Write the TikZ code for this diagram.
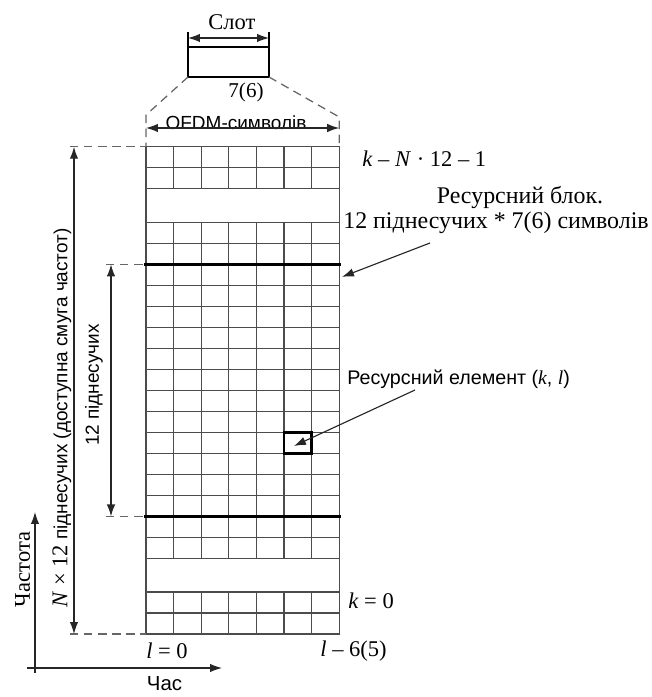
\documentclass[tikz,border=0pt]{standalone}
\usepackage{fontspec}
\setmainfont{Liberation Serif}
\setsansfont{Liberation Sans}
\usetikzlibrary{arrows.meta}

\begin{document}
\begin{tikzpicture}[x=0.025cm, y=0.025cm,
  serlbl/.style={font=\fontsize{16}{19}\selectfont\rmfamily, inner sep=0pt},
  sanslbl/.style={font=\fontsize{13.5}{16}\selectfont\sffamily, inner sep=0pt},
  dimarrow/.style={{Latex[length=8.5pt,width=6pt]}-{Latex[length=8.5pt,width=6pt]}, draw=black!85, line width=0.8pt},
  ptrarrow/.style={-{Latex[length=8.5pt,width=6pt]}, draw=black!85, line width=0.8pt},
  guide/.style={draw=black!60, dash pattern=on 6pt off 4pt, line width=0.9pt}]
% LTE resource grid, one slot
\def\cellw{0.69cm}
\def\cellh{0.525cm}
\providecommand{\rgGridLineColor}{black!70}
\providecommand{\rgGridLineWidth}{0.9pt}
\providecommand{\rgThickLineWidth}{2.2pt}
\useasboundingbox (-146,-63) rectangle (505,634);
\begin{scope}[x=\cellw, y=\cellh, line cap=rect]
  % Vertical lines
  \begin{scope}[draw=\rgGridLineColor, line width=\rgGridLineWidth]
    \draw (0,0) -- (0,23.2);
    \draw (7,0) -- (7,23.2);
    % bottom band
    \draw (1,0) -- (1,2);
    \draw (2,0) -- (2,2);
    \draw (3,0) -- (3,2);
    \draw (4,0) -- (4,2);
    \draw (5,0) -- (5,2);
    \draw (6,0) -- (6,2);
    % middle band
    \draw (1,3.6) -- (1,19.6);
    \draw (2,3.6) -- (2,19.6);
    \draw (3,3.6) -- (3,19.6);
    \draw (4,3.6) -- (4,19.6);
    \draw (5,3.6) -- (5,19.6);
    \draw (6,3.6) -- (6,19.6);
    % top band
    \draw (1,21.2) -- (1,23.2);
    \draw (2,21.2) -- (2,23.2);
    \draw (3,21.2) -- (3,23.2);
    \draw (4,21.2) -- (4,23.2);
    \draw (5,21.2) -- (5,23.2);
    \draw (6,21.2) -- (6,23.2);
  \end{scope}
  % Horizontal lines
  \begin{scope}[draw=\rgGridLineColor, line width=\rgGridLineWidth]
    \draw (0,0) -- (7,0);
    \draw (0,1) -- (7,1);
    \draw (0,2) -- (7,2);
    \draw (0,3.6) -- (7,3.6);
    \draw (0,4.6) -- (7,4.6);
    \draw (0,6.6) -- (7,6.6);
    \draw (0,7.6) -- (7,7.6);
    \draw (0,8.6) -- (7,8.6);
    \draw (0,9.6) -- (7,9.6);
    \draw (0,10.6) -- (7,10.6);
    \draw (0,11.6) -- (7,11.6);
    \draw (0,12.6) -- (7,12.6);
    \draw (0,13.6) -- (7,13.6);
    \draw (0,14.6) -- (7,14.6);
    \draw (0,15.6) -- (7,15.6);
    \draw (0,16.6) -- (7,16.6);
    \draw (0,18.6) -- (7,18.6);
    \draw (0,19.6) -- (7,19.6);
    \draw (0,21.2) -- (7,21.2);
    \draw (0,22.2) -- (7,22.2);
    \draw (0,23.2) -- (7,23.2);
  \end{scope}
  % Resource block borders
  \draw[line width=\rgThickLineWidth] (0,5.6) -- (7,5.6);
  \draw[line width=\rgThickLineWidth] (0,17.6) -- (7,17.6);
  % Resource element
  \draw[line width=2pt] (5,8.6) rectangle (6,9.6);
  \coordinate (retip) at (5.36,8.95);
  \coordinate (rbtip) at (7.1,17.0);
\end{scope}
% Slot box
\draw[line width=0.9pt] (42,557) rectangle (123,587);
\draw[line width=0.9pt] (42,587) -- (42,602);
\draw[line width=0.9pt] (123,587) -- (123,602);
\coordinate (slotl) at (42,596);
\coordinate (slotr) at (123,596);
\draw[dimarrow] (slotl) -- (slotr);
\node[serlbl] (slot) at (86,612) {Слот};
\node[serlbl, font=\fontsize{15}{18}\selectfont\rmfamily] (slotsym) at (100,542) {7(6)};
% Zoom guides
\draw[guide] (42,557) -- (0,519) -- (0,487);
\draw[guide] (123,557) -- (193.2,517) -- (193.2,487);
\coordinate (ofdml) at (0,506);
\coordinate (ofdmr) at (193.2,506);
\node[sanslbl, anchor=base] (ofdm) at (90,504) {OFDM-символів};
\draw[dimarrow] (ofdml) -- (ofdmr);
% Right labels
\node[serlbl, anchor=west] (ktop) at (216,475) {\textit{k} – \textit{N} · 12 – 1};
\node[serlbl, font=\fontsize{17}{20}\selectfont\rmfamily] (rbtitle) at (374,436) {Ресурсний блок.};
\node[serlbl, font=\fontsize{17}{20}\selectfont\rmfamily] (rbsize) at (350,411) {12 піднесучих * 7(6) символів};
\coordinate (rbfrom) at (284,391);
\draw[ptrarrow] (rbfrom) -- (rbtip);
\node[sanslbl, font=\fontsize{14}{17}\selectfont\sffamily, anchor=west] (relem) at (201,255) {Ресурсний елемент ({\rmfamily\itshape k}, {\rmfamily\itshape l})};
\coordinate (refrom) at (269,244);
\draw[ptrarrow] (refrom) -- (retip);
\node[serlbl, anchor=west] (kzero) at (202,33) {\textit{k} = 0};
\node[serlbl] (lzero) at (21,-17) {\textit{l} = 0};
\node[serlbl] (llast) at (207.5,-17) {\textit{l} – 6(5)};
% Left dimensions
\draw[guide] (-76,487.2) -- (0,487.2);
\draw[guide] (-76,0) -- (0,0);
\coordinate (bandtop) at (-72,487.2);
\coordinate (bandbot) at (-72,0);
\draw[dimarrow] (bandtop) -- (bandbot);
\node[sanslbl, rotate=90] (band) at (-84,216) {{\rmfamily\fontsize{16}{19}\selectfont\textit{N} × 12} піднесучих (доступна смуга частот)};
\draw[guide] (-40,369.6) -- (0,369.6);
\draw[guide] (-40,117.6) -- (0,117.6);
\coordinate (rbtop) at (-35,369.6);
\coordinate (rbbot) at (-35,117.6);
\draw[dimarrow] (rbtop) -- (rbbot);
\node[sanslbl, rotate=90] (sub12) at (-52,249) {12 піднесучих};
% Axes
\coordinate (origin) at (-111,-34);
\coordinate (faxis) at (-111,122);
\coordinate (taxis) at (76,-34);
\draw[ptrarrow] (-111,-39) -- (faxis);
\draw[ptrarrow] (-119,-34) -- (taxis);
\node[serlbl, rotate=90] (freq) at (-123.5,64.5) {Частота};
\node[sanslbl, font=\fontsize{14.5}{17}\selectfont\sffamily] (time) at (18.5,-50) {Час};
\end{tikzpicture}
\end{document}
